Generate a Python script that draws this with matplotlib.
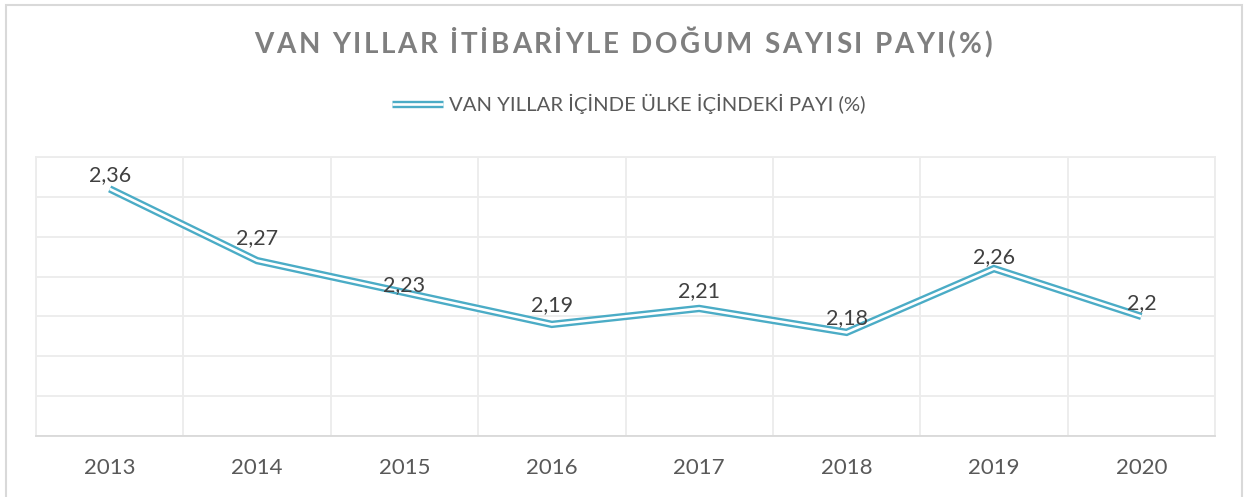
import matplotlib
matplotlib.use("Agg")
import matplotlib.pyplot as plt
import matplotlib.patches as patches
import matplotlib.patheffects as pe
from matplotlib.lines import Line2D
import numpy as np

plt.rcParams['font.family'] = ['Lato', 'DejaVu Sans']

# data
years = ["2013", "2014", "2015", "2016", "2017", "2018", "2019", "2020"]
share = [2.36, 2.27, 2.23, 2.19, 2.21, 2.18, 2.26, 2.2]
series_name = "VAN YILLAR İÇİNDE ÜLKE İÇİNDEKİ PAYI (%)"
title = "VAN YILLAR İTİBARİYLE DOĞUM SAYISI PAYI(%)"

# vertical nudge of each data label (points), as placed in the original
label_dy = [3, 8.8, -2, 6.6, 5.2, 3, 0.8, 2.3]

W, H = 1244, 497
line_c = "#4bacc6"
grid_c = "#ececec"
# double line look: white core over a wider blue stroke
double = [pe.Stroke(linewidth=5.3, foreground=line_c), pe.Normal()]


def spaced_title(fig, s, xc, y, spacing, **kw):
    """draw text with extra letter spacing (pixels), centered at xc"""
    r = fig.canvas.get_renderer()

    def width(txt):
        if txt == "":
            return 0.0
        t = fig.text(0, 0, txt, **kw)
        w = t.get_window_extent(r).width
        t.remove()
        return w

    lefts = []
    for i, ch in enumerate(s):
        if ch == " ":
            continue
        lefts.append((i, ch, width(s[:i + 1]) - width(ch)))
    total = width(s) + spacing * (len(s) - 1)
    x0 = xc - total / 2
    for i, ch, lx in lefts:
        fig.text((x0 + lx + i * spacing) / W, y / H, ch, ha="left", va="center", **kw)


fig = plt.figure(figsize=(W / 100, H / 100), dpi=100)
ax = fig.add_axes([36 / W, (H - 436) / H, (1215 - 36) / W, (436 - 157) / H])

x = np.arange(len(years))
ax.plot(x, share, color="white", lw=1.9, solid_joinstyle="miter", solid_capstyle="butt",
        path_effects=double, zorder=3)

for xi, v, dy in zip(x, share, label_dy):
    ax.annotate(("%g" % v).replace(".", ","), xy=(xi, v), xytext=(0, dy),
                textcoords="offset points", ha="center", va="bottom",
                fontsize=15.5, color="#404040", zorder=5)

# axes formatting
ax.set_xlim(-0.5, len(years) - 0.5)
ax.set_ylim(2.05, 2.40)
ax.set_yticks(np.arange(2.05, 2.401, 0.05))
ax.set_yticklabels([])
ax.set_xticks(x)
ax.set_xticklabels(years, fontsize=16, color="#595959")
ax.set_xticks(np.arange(-0.5, len(years), 1), minor=True)
ax.tick_params(which="both", length=0, pad=16)
ax.yaxis.grid(True, color=grid_c, lw=1.3)
ax.xaxis.grid(True, which="minor", color=grid_c, lw=1.3)
ax.set_axisbelow(True)
for side in ["left", "top", "right"]:
    ax.spines[side].set_color(grid_c)
    ax.spines[side].set_linewidth(1.3)
ax.spines["bottom"].set_color("#d9d9d9")
ax.spines["bottom"].set_linewidth(1.3)

# legend with a double line handle
handle = Line2D([], [], color="white", lw=1.9, solid_capstyle="butt", path_effects=double)
fig.legend([handle], [series_name], loc="center", bbox_to_anchor=(629 / W, 1 - 104 / H),
           frameon=False, fontsize=14.6, labelcolor="#595959",
           handlelength=2.5, handletextpad=0.3)

# title
spaced_title(fig, title, 623, H - 45, 2.7, fontsize=20, fontweight="bold", color="#7f7f7f")

# outer chart frame
fig.patches.append(patches.Rectangle((6 / W, -0.02), (1242 - 6) / W, 1.02 - 5 / H,
                                     transform=fig.transFigure, fill=False,
                                     edgecolor="#d9d9d9", lw=1.5))

fig.savefig("out.png", dpi=100, facecolor="white")
